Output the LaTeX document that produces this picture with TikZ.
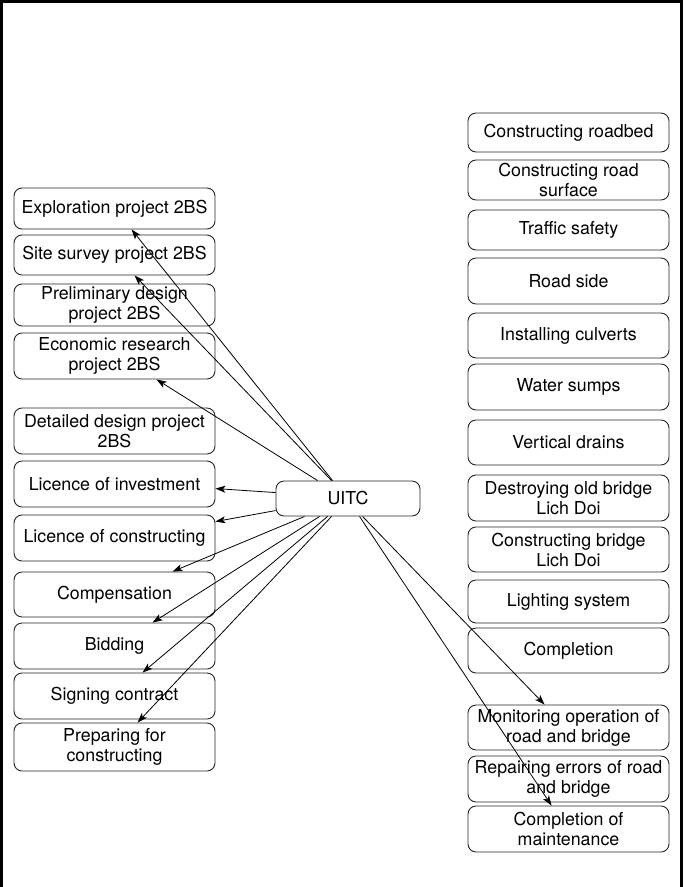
\documentclass[tikz,border=0pt]{standalone}
\usepackage{fontspec}
\newfontfamily\boxfont{TeX Gyre Heros}
\usetikzlibrary{arrows.meta,calc}
\tikzset{
  box/.style={draw=black!85, rounded corners=8pt, line width=0.9pt, minimum width=201pt,
    align=center, inner sep=0pt, font={\boxfont\fontsize{17.8}{20}\selectfont}},
  arr/.style={-{Stealth[length=10pt,width=7pt,inset=2.5pt]}, line width=0.8pt, black},
  frame/.style={line width=2.6pt, black}
}
\begin{document}
\begin{tikzpicture}[x=1pt,y=-1pt]
\useasboundingbox (0,0) rectangle (686,887);
\draw[frame] (1.3,887) -- (1.3,1.3) -- (681.5,1.3) -- (681.5,887);
% left column
\node[box, minimum height=41pt] (expl) at (114.5,208.5) {Exploration project 2BS};
\node[box, minimum height=40pt] (site) at (114.5,255) {Site survey project 2BS};
\node[box, minimum height=42pt] (prelim) at (114.5,305) {Preliminary design\\project 2BS};
\node[box, minimum height=46pt] (econ) at (114.5,356) {Economic research\\project 2BS};
\node[box, minimum height=46pt] (detail) at (114.5,431) {Detailed design project\\2BS};
\node[box, minimum height=46pt] (licinv) at (114.5,484) {Licence of investment};
\node[box, minimum height=46pt] (liccon) at (114.5,538) {Licence of constructing};
\node[box, minimum height=45pt] (comp) at (114.5,594.5) {Compensation};
\node[box, minimum height=46pt] (bid) at (114.5,646) {Bidding};
\node[box, minimum height=46pt] (sign) at (114.5,696) {Signing contract};
\node[box, minimum height=48pt] (prep) at (114.5,747) {Preparing for\\constructing};
% right column
\node[box, minimum height=39pt] (rbed) at (568.5,132.5) {Constructing roadbed};
\node[box, minimum height=40pt] (surf) at (568.5,180) {Constructing road\\surface};
\node[box, minimum height=40pt] (traf) at (568.5,230) {Traffic safety};
\node[box, minimum height=46pt] (side) at (568.5,281) {Road side};
\node[box, minimum height=45pt] (culv) at (568.5,335.5) {Installing culverts};
\node[box, minimum height=46pt] (sump) at (568.5,387) {Water sumps};
\node[box, minimum height=45pt] (drain) at (568.5,442.5) {Vertical drains};
\node[box, minimum height=46pt] (destroy) at (568.5,498) {Destroying old bridge\\Lich Doi};
\node[box, minimum height=45pt] (cbridge) at (568.5,549.5) {Constructing bridge\\Lich Doi};
\node[box, minimum height=43pt] (light) at (568.5,601.5) {Lighting system};
\node[box, minimum height=45pt] (compl) at (568.5,650.5) {Completion};
\node[box, minimum height=45pt] (monit) at (568.5,727.5) {Monitoring operation of\\road and bridge};
\node[box, minimum height=46pt] (repair) at (568.5,779) {Repairing errors of road\\and bridge};
\node[box, minimum height=46pt] (maint) at (568.5,829) {Completion of\\maintenance};
% centre
\node[box, minimum width=144pt, minimum height=35pt] (uitc) at (348,498.5) {UITC};
% connectors
\draw[arr] ($(uitc.north west)+(57,0)$) -- ($(expl.south west)+(118,0)$);
\draw[arr] ($(uitc.north west)+(56,0)$) -- ($(site.south west)+(121,0)$);
\draw[arr] ($(uitc.north west)+(42,0)$) -- ($(econ.south west)+(143,0)$);
\draw[arr] ($(uitc.north west)+(0,12)$) -- ($(licinv.north east)+(0,28)$);
\draw[arr] ($(uitc.north west)+(0,30)$) -- ($(liccon.north east)+(0,7)$);
\draw[arr] ($(uitc.south west)+(29,0)$) -- ($(comp.north west)+(159,0)$);
\draw[arr] ($(uitc.south west)+(44,0)$) -- ($(bid.north west)+(139,0)$);
\draw[arr] ($(uitc.south west)+(52,0)$) -- ($(sign.north west)+(129,0)$);
\draw[arr] ($(uitc.south west)+(56,0)$) -- ($(prep.north west)+(124,0)$);
\draw[arr] ($(uitc.south west)+(87,0)$) -- ($(monit.north west)+(77,0)$);
\draw[arr] ($(uitc.south west)+(84,0)$) -- ($(maint.north west)+(84,0)$);
\end{tikzpicture}
\end{document}
